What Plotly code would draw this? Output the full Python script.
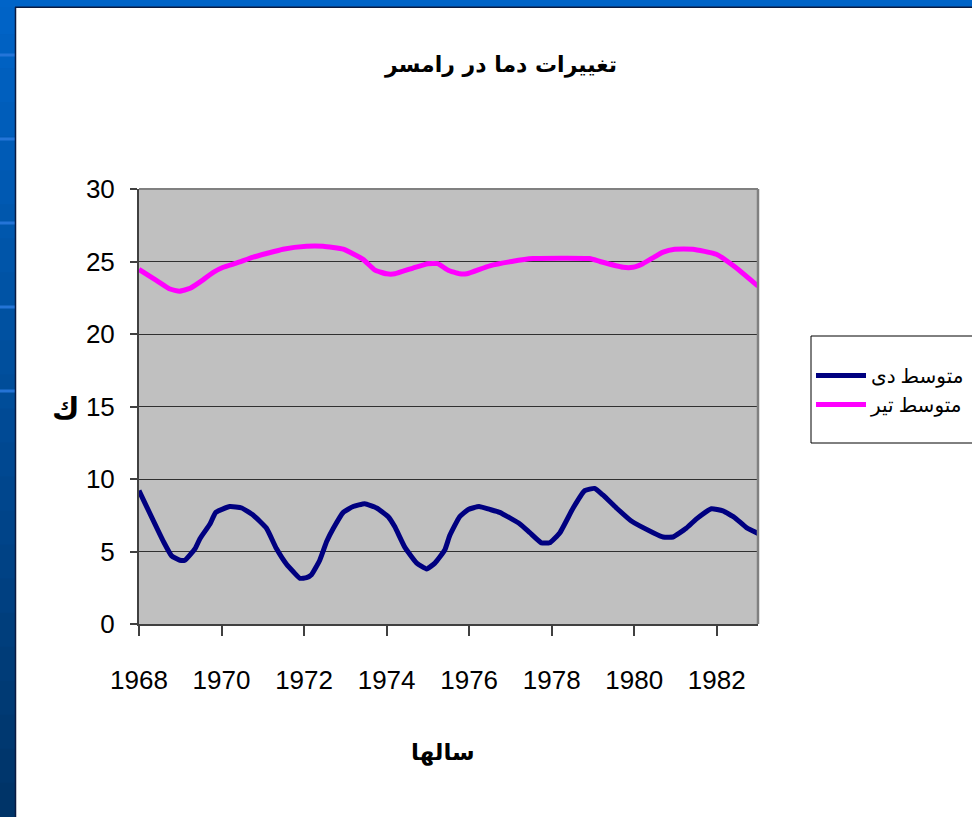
import plotly.graph_objects as go

# ---------------- data ----------------
title_text = "تغییرات دما در رامسر"
x_title = "سالها"
y_title = "ك"
name_dey = "متوسط دی"
name_tir = "متوسط تیر"

years_dey = [1968.0, 1968.59, 1968.79, 1968.99, 1969.11, 1969.36, 1969.48, 1969.72, 1969.86,
             1970.2, 1970.49, 1970.77, 1971.09, 1971.33, 1971.58, 1971.74, 1971.9, 1972.06,
             1972.18, 1972.38, 1972.55, 1972.71, 1972.95, 1973.19, 1973.47, 1973.76, 1974.04,
             1974.2, 1974.44, 1974.73, 1974.97, 1975.17, 1975.41, 1975.53, 1975.77, 1975.98,
             1976.24, 1976.5, 1976.74, 1977.23, 1977.47, 1977.75, 1977.95, 1978.2, 1978.52,
             1978.8, 1979.04, 1979.24, 1979.57, 1979.93, 1980.46, 1980.7, 1980.94, 1981.26,
             1981.51, 1981.87, 1982.15, 1982.43, 1982.72, 1983.0]
temp_dey = [9.2, 5.7, 4.7, 4.4, 4.4, 5.2, 5.9, 6.9, 7.7,
            8.1, 8.0, 7.5, 6.6, 5.2, 4.1, 3.6, 3.15, 3.2,
            3.4, 4.4, 5.7, 6.6, 7.7, 8.1, 8.3, 8.0, 7.4,
            6.7, 5.3, 4.2, 3.8, 4.2, 5.1, 6.1, 7.4, 7.9,
            8.1, 7.9, 7.7, 6.9, 6.3, 5.6, 5.6, 6.3, 8.0,
            9.2, 9.35, 8.9, 8.0, 7.1, 6.3, 6.0, 6.0, 6.6,
            7.25, 7.95, 7.8, 7.35, 6.65, 6.25]

years_tir = [1968.0, 1968.42, 1968.75, 1968.98, 1969.24, 1969.56, 1969.8, 1970.04, 1970.37,
             1970.77, 1971.09, 1971.49, 1972.06, 1972.46, 1972.95, 1973.43, 1973.72, 1974.0,
             1974.2, 1974.64, 1975.0, 1975.24, 1975.49, 1975.77, 1975.94, 1976.5, 1977.03,
             1977.55, 1978.92, 1979.17, 1979.73, 1979.97, 1980.21, 1980.7, 1980.98, 1981.42,
             1981.99, 1982.43, 1983.0]
temp_tir = [24.45, 23.7, 23.1, 22.95, 23.15, 23.75, 24.25, 24.6, 24.9,
            25.3, 25.55, 25.85, 26.05, 26.05, 25.85, 25.15, 24.4, 24.15,
            24.15, 24.55, 24.85, 24.85, 24.4, 24.15, 24.15, 24.7, 25.0,
            25.2, 25.2, 25.0, 24.6, 24.6, 24.85, 25.65, 25.85, 25.85,
            25.5, 24.65, 23.3]

x_tick_vals = [1968, 1970, 1972, 1974, 1976, 1978, 1980, 1982]
x_tick_text = ["1968", "1970", "1972", "1974", "1976", "1978", "1980", "1982"]
y_tick_vals = [0, 5, 10, 15, 20, 25, 30]
y_tick_text = ["0", "5", "10", "15", "20", "25", "30"]

# ---------------- layout geometry ----------------
W, H = 972, 817
PL, PR, PT, PB = 139, 758, 189, 624   # plot area in pixels


def px(xp):
    return (xp - PL) / (PR - PL)


def py(yp):
    return (PB - yp) / (PB - PT)


fig = go.Figure()
fig.add_trace(go.Scatter(x=years_dey, y=temp_dey, mode="lines", name=name_dey,
                         line=dict(color="#000080", width=5, shape="spline", smoothing=0.4)))
fig.add_trace(go.Scatter(x=years_tir, y=temp_tir, mode="lines", name=name_tir,
                         line=dict(color="#ff00ff", width=5, shape="spline", smoothing=0.4)))

tick_font = dict(family="Liberation Sans, Arial, sans-serif", size=26, color="#000000")

fig.update_xaxes(range=[1968, 1983], tickmode="array", tickvals=x_tick_vals, ticktext=x_tick_text,
                 showgrid=False, zeroline=False, showline=True, linecolor="#404040", linewidth=2,
                 ticks="outside", ticklen=10, tickwidth=1.5, tickcolor="#404040",
                 tickfont=tick_font, ticklabelstandoff=22)
fig.update_yaxes(range=[0, 30], tickmode="array", tickvals=y_tick_vals, ticktext=y_tick_text,
                 showgrid=True, gridcolor="#303030", gridwidth=1.2, zeroline=False,
                 showline=True, linecolor="#404040", linewidth=2,
                 ticks="outside", ticklen=7, tickwidth=1.5, tickcolor="#404040",
                 tickfont=tick_font, ticklabelstandoff=10)

shapes = []
# left blue frame with vertical gradient
top_c = (0, 100, 200)
bot_c = (0, 51, 102)
n = 24
for i in range(n):
    t = (i + 0.5) / n
    c = tuple(int(round(top_c[k] + (bot_c[k] - top_c[k]) * t)) for k in range(3))
    y0p = H * i / n
    y1p = H * (i + 1) / n + 1
    shapes.append(dict(type="rect", xref="paper", yref="paper", x0=px(0), x1=px(15),
                       y0=py(y1p), y1=py(y0p), line=dict(width=0),
                       fillcolor="rgb(%d,%d,%d)" % c, layer="above"))
# lighter stripes on the left frame
for sp in [55, 139, 223, 307, 391]:
    shapes.append(dict(type="rect", xref="paper", yref="paper", x0=px(0), x1=px(15),
                       y0=py(sp + 1.5), y1=py(sp - 1.5), line=dict(width=0),
                       fillcolor="rgba(40,120,220,0.9)", layer="above"))
# top blue frame
shapes.append(dict(type="rect", xref="paper", yref="paper", x0=px(0), x1=px(W),
                   y0=py(7), y1=py(0), line=dict(width=0), fillcolor="#0064c8", layer="above"))
# dark edge lines of slide frame
shapes.append(dict(type="line", xref="paper", yref="paper", x0=px(15.5), x1=px(15.5),
                   y0=py(H), y1=py(7), line=dict(color="#0a1a40", width=1.5), layer="above"))
shapes.append(dict(type="line", xref="paper", yref="paper", x0=px(15), x1=px(W),
                   y0=py(7.2), y1=py(7.2), line=dict(color="#0a1a40", width=1.5), layer="above"))
# top and right borders of the plot area (grey)
shapes.append(dict(type="line", xref="paper", yref="paper", x0=0, x1=1, y0=1, y1=1,
                   line=dict(color="#808080", width=2), layer="above"))
shapes.append(dict(type="line", xref="paper", yref="paper", x0=1, x1=1, y0=0, y1=1,
                   line=dict(color="#808080", width=2.5), layer="above"))
# legend frame (white box with black border, runs off the right edge)
shapes.append(dict(type="rect", xref="paper", yref="paper", x0=px(811), x1=px(W + 5),
                   y0=py(443), y1=py(336), line=dict(color="#000000", width=1),
                   fillcolor="#ffffff", layer="above"))

arabic_font = "DejaVu Sans, Noto Sans, sans-serif"
annotations = [
    dict(text="<b>%s</b>" % title_text, xref="paper", yref="paper", x=px(500), y=py(65),
         showarrow=False, xanchor="center", yanchor="middle",
         font=dict(family=arabic_font, size=22, color="#000000")),
    dict(text="<b>%s</b>" % x_title, xref="paper", yref="paper", x=px(443), y=py(752),
         showarrow=False, xanchor="center", yanchor="middle",
         font=dict(family=arabic_font, size=23, color="#000000")),
    dict(text="<b>%s</b>" % y_title, xref="paper", yref="paper", x=px(66), y=py(408),
         showarrow=False, xanchor="center", yanchor="middle",
         font=dict(family=arabic_font, size=30, color="#000000")),
]

fig.update_layout(
    width=W, height=H, autosize=False,
    margin=dict(l=PL, r=W - PR, t=PT, b=H - PB, pad=0, autoexpand=False),
    paper_bgcolor="#ffffff",
    plot_bgcolor="#c0c0c0",
    shapes=shapes,
    annotations=annotations,
    showlegend=True,
    legend=dict(xref="container", yref="container", x=811 / W, y=1 - 356 / H,
                xanchor="left", yanchor="top",
                bgcolor="rgba(0,0,0,0)", borderwidth=0,
                font=dict(family="Liberation Serif, " + arabic_font, size=20, color="#000000"),
                itemwidth=50, tracegroupgap=4, traceorder="normal"),
)

page_fix = ("document.body.style.margin='0';"
            "document.body.style.padding='0';"
            "document.body.style.overflow='hidden';"
            "document.documentElement.style.overflow='hidden';")

fig.write_html("out.html", config={"responsive": False, "displayModeBar": False},
               post_script=page_fix)
